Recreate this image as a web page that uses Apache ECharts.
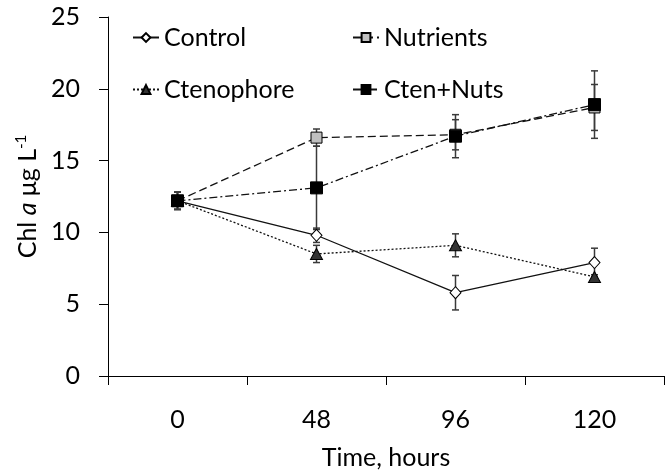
<!DOCTYPE html>
<html>
<head>
<meta charset="utf-8">
<script src="https://cdn.jsdelivr.net/npm/echarts@6/dist/echarts.min.js"></script>
<style>
  html, body { margin: 0; padding: 0; background: #fff; }
  #chart { width: 666px; height: 475px; }
</style>
</head>
<body>
<div id="chart"></div>
<script>
// Sampling times (hours) and treatment means with ± error
const hours = ['0', '48', '96', '120'];

const control = [12.2, 9.8, 5.8, 7.9];
const controlErr = [0.6, 0.5, 1.2, 1.0];

const nutrients = [12.2, 16.6, 16.8, 18.7];
const nutrientsErr = [0.6, 0.6, 1.05, 1.6];

const ctenophore = [12.2, 8.5, 9.1, 6.9];
const ctenophoreErr = [0.6, 0.6, 0.8, 0.15];

const ctenNuts = [12.2, 13.1, 16.7, 18.9];
const ctenNutsErr = [0.6, 2.9, 1.5, 2.35];

const FONT = 'Lato';
const FS = 25;

function errData(means, errs) {
  return means.map((m, i) => [i, m - errs[i], m + errs[i]]);
}

function errorBars(name, means, errs) {
  return {
    type: 'custom',
    name: name + ' err',
    z: 1,
    silent: true,
    data: errData(means, errs),
    encode: { x: 0, y: [1, 2] },
    renderItem: function (params, api) {
      const x = api.value(0);
      const lo = api.coord([x, api.value(1)]);
      const hi = api.coord([x, api.value(2)]);
      const w = 3.5;
      const style = { stroke: '#3a3a3a', lineWidth: 1.5 };
      return {
        type: 'group',
        children: [
          { type: 'line', shape: { x1: lo[0], y1: lo[1], x2: hi[0], y2: hi[1] }, style: style },
          { type: 'line', shape: { x1: hi[0] - w, y1: hi[1], x2: hi[0] + w, y2: hi[1] }, style: style },
          { type: 'line', shape: { x1: lo[0] - w, y1: lo[1], x2: lo[0] + w, y2: lo[1] }, style: style }
        ]
      };
    }
  };
}

function lineSeries(name, data, symbol, size, fill, dash, z) {
  return {
    type: 'line',
    name: name,
    data: data,
    z: z,
    symbol: symbol,
    symbolSize: size,
    showAllSymbol: true,
    itemStyle: { color: fill, borderColor: '#000', borderWidth: 1 },
    lineStyle: { color: '#111', width: 1.3, type: dash },
    emphasis: { disabled: true }
  };
}

function legendAt(name, left, top) {
  return {
    data: [name],
    left: left,
    top: top,
    padding: 0,
    itemWidth: 26,
    itemHeight: 11,
    itemGap: 0,
    selectedMode: false,
    textStyle: { fontFamily: FONT, fontSize: FS, color: '#000', padding: [0, 0, 0, 0] }
  };
}

const chart = echarts.init(document.getElementById('chart'), null, { renderer: 'canvas' });

chart.setOption({
  animation: false,
  backgroundColor: '#fff',
  grid: { left: 108, right: 2, top: 17, bottom: 94 },
  legend: [
    legendAt('Control', 132, 25),
    legendAt('Nutrients', 352, 25),
    legendAt('Ctenophore', 132, 77),
    legendAt('Cten+Nuts', 352, 77)
  ],
  xAxis: {
    type: 'category',
    data: hours,
    boundaryGap: true,
    axisLine: { lineStyle: { color: '#000', width: 1 } },
    axisTick: { show: true, inside: false, length: 9, lineStyle: { color: '#000' } },
    axisLabel: { color: '#000', fontFamily: FONT, fontSize: FS, margin: 31 },
    splitLine: { show: false },
    name: 'Time, hours',
    nameLocation: 'middle',
    nameGap: 69,
    nameTextStyle: { color: '#000', fontFamily: FONT, fontSize: FS }
  },
  yAxis: {
    type: 'value',
    min: 0,
    max: 25,
    interval: 5,
    axisLine: { show: true, lineStyle: { color: '#000', width: 1 } },
    axisTick: { show: true, inside: false, length: 9, lineStyle: { color: '#000' } },
    axisLabel: { color: '#000', fontFamily: FONT, fontSize: FS, margin: 28 },
    splitLine: { show: false },
    name: 'Chl {i|a} μg L{sup|-1}',
    nameLocation: 'middle',
    nameGap: 66,
    nameRotate: 90,
    nameTextStyle: {
      color: '#000', fontFamily: FONT, fontSize: FS,
      rich: {
        i: { fontFamily: FONT, fontSize: FS, fontStyle: 'italic', color: '#000' },
        sup: { fontFamily: FONT, fontSize: 15, color: '#000', verticalAlign: 'top', padding: [0, 0, 12, 0] }
      }
    }
  },
  series: [
    errorBars('Control', control, controlErr),
    errorBars('Nutrients', nutrients, nutrientsErr),
    errorBars('Ctenophore', ctenophore, ctenophoreErr),
    errorBars('Cten+Nuts', ctenNuts, ctenNutsErr),
    lineSeries('Control', control, 'diamond', [11, 12], '#fff', 'solid', 3),
    lineSeries('Nutrients', nutrients, 'rect', 11, '#c0c0c0', [8, 4], 4),
    lineSeries('Ctenophore', ctenophore, 'triangle', [12, 11], '#333', [2, 2], 5),
    lineSeries('Cten+Nuts', ctenNuts, 'rect', 12, '#000', [8, 3, 2, 3], 6)
  ]
});
</script>
</body>
</html>
